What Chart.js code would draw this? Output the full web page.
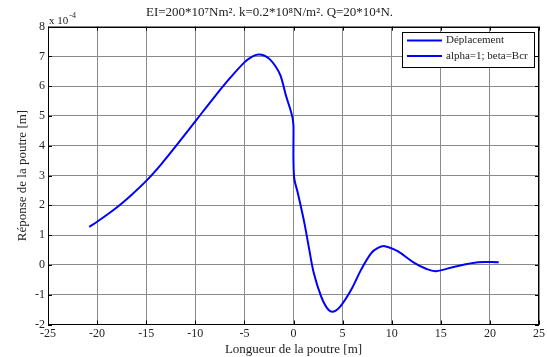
<!DOCTYPE html>
<html>
<head>
<meta charset="utf-8">
<script src="https://cdn.jsdelivr.net/npm/chart.js@4.4.0/dist/chart.umd.min.js"></script>
<style>
  html, body { margin: 0; padding: 0; background: #fff; }
  #wrap { width: 547px; height: 357px; }
</style>
</head>
<body>
<div id="wrap"><canvas id="beam"></canvas></div>
<script>
// Beam deflection, y values in units of 1e-4 m
const xLeft = [-20.8, -20, -18, -16.5, -15, -13.5, -12, -10, -8, -6.5, -5.0, -4.2, -3.6, -3.0, -2.4, -1.8, -1.3, -0.8, -0.4, -0.1, 0];
const yLeft = [1.28, 1.45, 1.93, 2.35, 2.82, 3.37, 3.98, 4.82, 5.66, 6.26, 6.8, 6.99, 7.06, 7.03, 6.9, 6.65, 6.34, 5.72, 5.3, 4.95, 4.66];
const xRight = [0, 0.05, 0.45, 1.1, 1.6, 2.06, 2.8, 3.4, 4.0, 4.8, 5.9, 6.9, 7.9, 8.6, 9.3, 10.6, 12.3, 13.5, 14.5, 16.4, 18.8, 20.9];
const yRight = [4.66, 2.98, 2.4, 1.42, 0.52, -0.26, -1.05, -1.44, -1.57, -1.38, -0.82, -0.15, 0.39, 0.57, 0.63, 0.46, 0.07, -0.13, -0.21, -0.06, 0.09, 0.09];

const seriesLabels = ['Déplacement', 'alpha=1; beta=Bcr'];
const lineColor = '#0000ff';
const titleText = 'EI=200*10⁷Nm². k=0.2*10⁸N/m². Q=20*10⁴N.';
const xTitle = 'Longueur de la poutre [m]';
const yTitle = 'Réponse de la poutre [m]';

const serif = 'Liberation Serif';
const toPoints = (xs, ys) => xs.map((x, i) => ({ x: x, y: ys[i] }));

// box, inward ticks, exponent label and legend drawn on top
const matlabFrame = {
  id: 'matlabFrame',
  afterDraw(chart) {
    const { ctx, chartArea: a, scales } = chart;
    ctx.save();
    ctx.strokeStyle = '#000';
    ctx.lineWidth = 1;
    ctx.strokeRect(Math.round(a.left) + 0.5, Math.round(a.top) + 0.5,
      Math.round(a.right - a.left) - 1, Math.round(a.bottom - a.top) - 1);

    const tl = 4;
    ctx.beginPath();
    scales.x.ticks.forEach(t => {
      const px = Math.round(scales.x.getPixelForValue(t.value)) + 0.5;
      ctx.moveTo(px, a.bottom); ctx.lineTo(px, a.bottom - tl);
      ctx.moveTo(px, a.top); ctx.lineTo(px, a.top + tl);
    });
    scales.y.ticks.forEach(t => {
      const py = Math.round(scales.y.getPixelForValue(t.value)) + 0.5;
      ctx.moveTo(a.left, py); ctx.lineTo(a.left + tl, py);
      ctx.moveTo(a.right, py); ctx.lineTo(a.right - tl, py);
    });
    ctx.stroke();

    // x 10^-4 multiplier
    ctx.fillStyle = '#222';
    ctx.textBaseline = 'alphabetic';
    ctx.textAlign = 'left';
    ctx.font = '11px "' + serif + '"';
    ctx.fillText('x 10', a.left + 1, a.top - 3);
    const w = ctx.measureText('x 10').width;
    ctx.font = '8px "' + serif + '"';
    ctx.fillText('-4', a.left + 1 + w + 1, a.top - 9);

    // legend box
    const lx = 402, ly = 32, lw = 132, lh = 35;
    ctx.fillStyle = '#fff';
    ctx.fillRect(lx, ly, lw, lh);
    ctx.strokeStyle = '#000';
    ctx.lineWidth = 1;
    ctx.strokeRect(lx + 0.5, ly + 0.5, lw, lh);
    ctx.font = '11px "' + serif + '"';
    ctx.textBaseline = 'middle';
    chart.data.datasets.forEach((ds, i) => {
      const yy = ly + 8.5 + i * 15.5;
      ctx.strokeStyle = ds.borderColor;
      ctx.lineWidth = 2;
      ctx.beginPath();
      ctx.moveTo(lx + 5, yy); ctx.lineTo(lx + 40, yy);
      ctx.stroke();
      ctx.fillStyle = '#222';
      ctx.fillText(ds.label, lx + 44, yy);
    });
    ctx.restore();
  }
};

new Chart(document.getElementById('beam'), {
  type: 'line',
  data: {
    datasets: [
      { label: seriesLabels[0], data: toPoints(xLeft, yLeft), borderColor: lineColor },
      { label: seriesLabels[1], data: toPoints(xRight, yRight), borderColor: lineColor }
    ]
  },
  options: {
    responsive: true,
    maintainAspectRatio: false,
    animation: false,
    layout: { padding: { left: 0, right: 8, top: 0, bottom: 0 } },
    elements: {
      line: { borderWidth: 2, tension: 0.35 },
      point: { radius: 0 }
    },
    plugins: {
      legend: { display: false },
      tooltip: { enabled: false },
      title: {
        display: true,
        text: titleText,
        color: '#222',
        font: { family: serif, size: 13, weight: 'normal' },
        padding: { top: 5, bottom: 6 }
      }
    },
    scales: {
      x: {
        type: 'linear',
        min: -25, max: 25,
        ticks: { stepSize: 5, color: '#222', padding: 2, font: { family: serif, size: 12 } },
        grid: { color: '#8a8a8a', drawTicks: false },
        border: { display: false },
        title: { display: true, text: xTitle, color: '#222', font: { family: serif, size: 13 }, padding: { top: 0, bottom: 0 } },
        afterFit(scale) { scale.height = 32.5; }
      },
      y: {
        min: -2, max: 8,
        ticks: { stepSize: 1, color: '#222', padding: 3, font: { family: serif, size: 12 } },
        grid: { color: '#8a8a8a', drawTicks: false },
        border: { display: false },
        title: { display: true, text: yTitle, color: '#222', font: { family: serif, size: 13 }, padding: { top: 15, bottom: 0 } },
        afterFit(scale) { scale.width = 48; }
      }
    }
  },
  plugins: [matlabFrame]
});
</script>
</body>
</html>
